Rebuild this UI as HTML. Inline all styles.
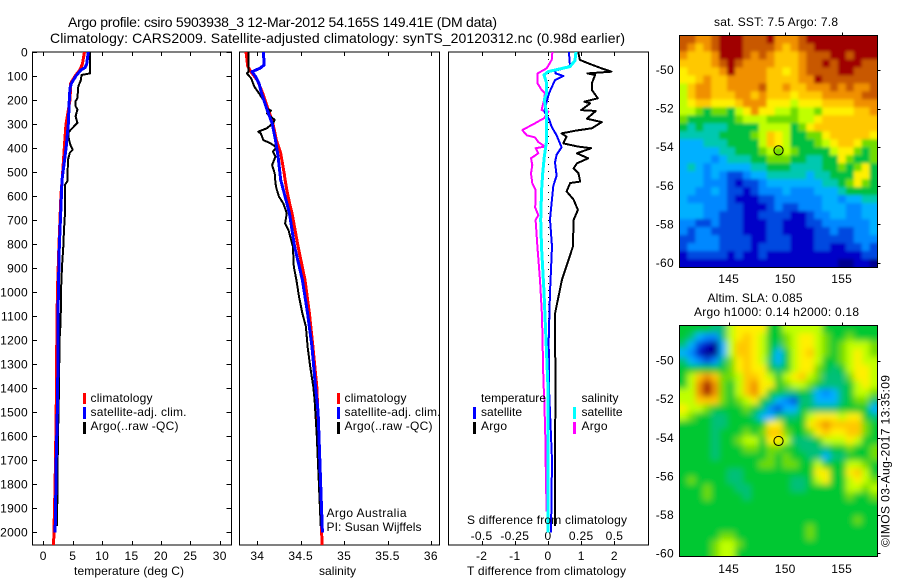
<!DOCTYPE html>
<html lang="en">
<head>
<meta charset="utf-8">
<title>Argo profile chart</title>
<style>
html,body{margin:0;padding:0;background:#fff;}
svg{display:block;font-family:"Liberation Sans",sans-serif;font-size:12px;fill:#000;}
text{fill:#000;}
</style>
</head>
<body>
<svg id="chart" xmlns="http://www.w3.org/2000/svg" width="900" height="580" viewBox="0 0 900 580">
<defs>
<clipPath id="sst-clip"><rect x="679.5" y="35.5" width="198" height="231.5"/></clipPath>
<clipPath id="sla-clip"><rect x="679.5" y="325" width="198" height="231"/></clipPath>
<filter id="sla-blur" x="-10%" y="-10%" width="120%" height="120%"><feGaussianBlur stdDeviation="3.2"/></filter>
<filter id="sst-blur" x="-5%" y="-5%" width="110%" height="110%"><feGaussianBlur stdDeviation="1.5"/></filter>
</defs>
<text x="68" y="27" font-size="14" textLength="429">Argo profile: csiro 5903938_3 12-Mar-2012 54.165S 149.41E (DM data)</text>
<text x="50" y="43" font-size="14" textLength="575">Climatology: CARS2009. Satellite-adjusted climatology: synTS_20120312.nc (0.98d earlier)</text>

<g id="temp-panel"></g>
<g id="sal-panel"></g>
<g id="diff-panel"></g>

<text x="74" y="575" textLength="110">temperature (deg C)</text>
<text x="319" y="575" textLength="37">salinity</text>
<text x="467" y="575" textLength="159">T difference from climatology</text>
<text x="467" y="524" textLength="160">S difference from climatology</text>

<g>
<rect x="83" y="393" width="3" height="11" fill="#f00"/>
<rect x="83" y="407" width="3" height="12" fill="#00f"/>
<rect x="83" y="422" width="3" height="12" fill="#000"/>
<text x="90.5" y="402" textLength="62">climatology</text>
<text x="90.5" y="416" textLength="96">satellite-adj. clim.</text>
<text x="90.5" y="430" textLength="88">Argo(..raw -QC)</text>
</g>
<g>
<rect x="337" y="393" width="3" height="11" fill="#f00"/>
<rect x="337" y="407" width="3" height="12" fill="#00f"/>
<rect x="337" y="422" width="3" height="12" fill="#000"/>
<text x="344.5" y="402" textLength="62">climatology</text>
<text x="344.5" y="416" textLength="96">satellite-adj. clim.</text>
<text x="344.5" y="430" textLength="88">Argo(..raw -QC)</text>
<text x="326.5" y="517" textLength="80">Argo Australia</text>
<text x="326.5" y="531" textLength="95">PI: Susan Wijffels</text>
</g>
<g>
<text x="481" y="402" textLength="65">temperature</text>
<rect x="473" y="407" width="3" height="12" fill="#00f"/>
<text x="481" y="416" textLength="41">satellite</text>
<rect x="473" y="422" width="3" height="12" fill="#000"/>
<text x="481" y="430" textLength="26">Argo</text>
<text x="581.5" y="402" textLength="37">salinity</text>
<rect x="573" y="407" width="3" height="12" fill="#0ff"/>
<text x="581.5" y="416" textLength="41">satellite</text>
<rect x="573" y="422" width="3" height="12" fill="#f0f"/>
<text x="581.5" y="430" textLength="26">Argo</text>
</g>

<text x="714" y="26" textLength="124">sat. SST: 7.5 Argo: 7.8</text>
<text x="707.5" y="302" textLength="95">Altim. SLA: 0.085</text>
<text x="694" y="316" textLength="165">Argo h1000: 0.14 h2000: 0.18</text>

<g clip-path="url(#sst-clip)"><g id="sst-map" filter="url(#sst-blur)"></g></g>
<g clip-path="url(#sla-clip)"><g id="sla-map" filter="url(#sla-blur)"></g></g>
<g id="map-frames"></g>

<text transform="translate(889.5,547) rotate(-90)" textLength="172">©IMOS 03-Aug-2017 13:35:09</text>
</svg>

<script>
// ---------- axis tick values ----------
const depthTicks = [0,100,200,300,400,500,600,700,800,900,1000,1100,1200,1300,1400,1500,1600,1700,1800,1900,2000];
const tempTicks = [0,5,10,15,20,25,30];
const salTicks = [34,34.5,35,35.5,36];
const tDiffTicks = [-2,-1,0,1,2];
const sDiffTicks = [-0.5,-0.25,0,0.25,0.5];
const sDiffLabels = ['-0.5','-0.25','0','0.25','0.5'];
const lonTicks = [145,150,155];
const latTicks = [-50,-52,-54,-56,-58,-60];

// ---------- temperature panel ----------
const tempClimDepth = [0,50,75,100,130,200,300,350,400,500,600,810,1000,1200,1500,1800,2054];
const tempClimValue = [7.0,6.65,6.2,5.4,4.66,4.54,3.86,3.7,3.57,3.3,3.0,2.65,2.4,2.3,2.2,2.0,1.75];
const tempSatDepth = [0,50,65,75,100,130,150,200,300,400,533,671,811,1006,1395,1500,1700,1900,2003];
const tempSatValue = [7.65,7.38,7.1,6.4,5.55,4.8,4.54,4.43,4.25,3.87,3.18,2.96,2.72,2.55,2.45,2.38,2.2,2.1,2.0];
const tempArgoDepth = [0,89,96,117,143,192,205,226,240,268,295,316,335,365,393,407,420,449,490,538,553,600,671,740,811,894,1006,1120,1200,1400,1600,1800,1974];
const tempArgoValue = [7.94,7.94,6.5,6.4,5.95,5.8,5.5,5.5,5.8,5.5,5.8,5.0,4.25,4.35,4.7,5.0,4.5,4.2,4.15,4.1,3.7,3.7,3.69,3.52,3.4,3.18,3.0,2.96,2.75,2.67,2.5,2.4,2.35];

// ---------- salinity panel ----------
const salClimDepth = [0,61,89,117,179,228,297,367,422,506,533,575,644,671,811,950,1089,1228,1395,1700,2054];
const salClimValue = [33.87,33.89,33.94,34.0,34.07,34.115,34.18,34.22,34.27,34.31,34.32,34.34,34.38,34.40,34.47,34.55,34.60,34.64,34.685,34.72,34.745];
const salSatDepth = [0,54,68,82,103,131,172,228,297,367,436,533,671,811,950,1089,1228,1395,1500,1700,2003];
const salSatValue = [34.07,34.08,34.03,33.94,33.98,34.02,34.05,34.10,34.17,34.21,34.24,34.27,34.37,34.43,34.52,34.58,34.63,34.67,34.70,34.72,34.75];
const salArgoDepth = [0,82,89,110,144,172,200,235,244,256,283,297,318,332,339,367,380,397,415,436,471,506,547,568,603,631,672,714,742,811,894,950,1019,1089,1144,1228,1311,1395,1450,1600,1800,1974];
const salArgoValue = [33.90,33.90,33.88,33.93,33.965,34.02,34.07,34.11,34.16,34.11,34.20,34.18,34.11,34.01,34.04,34.07,34.15,34.22,34.18,34.21,34.17,34.20,34.21,34.22,34.25,34.30,34.34,34.32,34.36,34.41,34.42,34.45,34.48,34.52,34.56,34.58,34.61,34.645,34.66,34.685,34.71,34.73];

// ---------- difference panel ----------
const diffTSatDepth = [0,54,64,78,89,100,117,172,207,248,283,312,347,397,428,460,515,558,625,697,811,1000,1200,1400,1600,1700,2003];
const diffTSatValue = [0.63,0.66,0.61,0.21,0.23,0.46,0.21,0.03,-0.04,-0.11,0.04,0.11,0.26,0.41,0.26,0.21,0.26,0.16,0.11,0.06,0.12,0.06,0.02,0.03,0.09,0.12,0.09];
const diffTArgoDepth = [0,33,47,68,82,89,96,131,158,193,207,214,242,246,278,292,318,328,339,353,381,394,401,422,443,464,485,506,540,546,581,615,658,700,811,950,1090,1200,1370,1650,1974];
const diffTArgoValue = [0.91,0.96,1.21,1.61,1.91,1.19,1.42,1.32,1.32,1.5,1.1,1.27,1.0,1.44,1.17,1.62,1.32,0.82,0.41,0.56,0.46,0.91,1.3,0.87,1.21,0.87,0.77,0.92,0.97,0.67,0.56,0.77,0.9,0.77,0.75,0.42,0.21,0.21,0.23,0.21,0.21];
const diffSSatDepth = [0,36,61,75,82,96,131,172,200,255,367,436,506,575,700,811,1000,1200,1400,2003];
const diffSSatValue = [0.21,0.203,0.166,0.053,0,-0.03,-0.01,-0.01,-0.028,-0.01,-0.01,-0.028,-0.04,-0.048,-0.055,-0.049,-0.03,-0.015,0,0];
const diffSArgoDepth = [0,33,68,89,131,158,172,200,242,248,276,297,325,336,347,356,375,394,401,422,443,471,506,547,575,630,646,680,700,811,950,1100,1370,1450,1600,1800,1915];
const diffSArgoValue = [0.033,0.028,-0.01,-0.078,-0.078,-0.048,-0.023,-0.03,-0.048,0.003,-0.03,-0.098,-0.193,-0.178,-0.16,-0.098,-0.073,-0.023,-0.093,-0.073,-0.128,-0.118,-0.128,-0.118,-0.093,-0.093,-0.098,-0.073,-0.093,-0.08,-0.06,-0.045,-0.035,-0.028,-0.02,-0.015,-0.01];

// ---------- map fields (colour level per grid cell, north to south) ----------
const sstLevels = [
[12,12,11,11,12,13,13,13,12,12,12,13,11,11,11,12,13,13,13,13,13,13,13,13,13],
[12,11,10,11,12,13,13,13,12,12,12,12,11,10,11,12,12,13,13,13,13,13,13,13,13],
[11,10,10,10,11,13,13,13,12,11,12,11,10,10,10,11,12,12,12,13,13,12,13,13,13],
[10,10,10,10,11,12,13,12,11,11,11,11,10,10,10,11,12,12,13,12,13,13,13,12,12],
[9,10,10,10,10,11,13,11,11,11,11,10,10,9,10,11,12,12,12,12,13,13,12,12,12],
[9,9,10,11,10,10,11,11,11,11,11,10,10,10,10,11,11,13,12,12,12,12,12,12,12],
[8,10,11,11,10,10,11,11,11,11,12,10,10,11,10,10,11,11,11,12,11,12,11,11,12],
[8,10,11,11,10,10,10,11,11,10,11,10,10,10,9,10,10,10,11,11,11,11,11,12,12],
[8,9,10,10,9,9,9,10,11,11,11,9,9,9,8,9,9,9,10,10,10,10,11,11,11],
[8,8,7,6,7,7,6,8,9,11,9,9,8,8,7,8,8,7,9,9,9,9,10,10,11],
[7,6,6,6,6,6,6,7,8,8,8,7,7,7,7,8,8,9,10,10,10,10,10,10,10],
[6,5,6,5,5,5,6,6,6,6,8,8,8,8,6,7,9,10,10,10,10,10,10,10,10],
[5,5,5,5,5,6,6,6,6,7,8,10,9,8,6,6,7,7,9,10,10,10,10,10,9],
[4,4,4,5,5,5,6,6,6,6,8,10,9,8,6,6,6,7,8,9,10,10,9,7,7],
[4,4,4,4,4,5,5,6,6,6,7,8,7,8,7,6,6,6,6,8,9,9,7,6,7],
[4,4,4,4,3,4,5,5,5,6,6,7,7,7,6,6,5,5,6,6,9,7,6,6,7],
[4,5,4,3,4,4,4,4,4,5,5,6,6,6,5,5,5,5,6,6,7,6,7,9,6],
[4,4,4,3,4,3,2,2,3,4,4,5,5,5,5,5,4,5,5,6,6,6,9,9,6],
[4,4,4,3,3,3,2,1,2,2,3,4,4,4,4,4,4,4,5,5,6,7,9,7,6],
[4,4,3,3,4,3,2,2,1,2,3,3,3,4,3,3,3,4,4,4,5,6,6,6,6],
[4,3,3,3,3,3,2,1,1,1,2,2,3,3,3,3,3,3,4,4,3,4,4,5,5],
[4,4,4,3,3,3,2,2,1,1,1,2,3,2,2,3,3,3,4,4,4,3,3,4,4],
[4,4,4,3,3,2,2,2,1,1,2,2,2,2,1,1,2,3,3,4,4,3,3,4,4],
[3,3,2,2,3,2,2,2,1,1,1,2,2,1,1,1,2,2,3,3,3,3,3,3,4],
[3,2,3,3,2,2,2,2,1,1,1,2,2,1,1,1,1,2,2,3,2,2,3,3,4],
[2,2,3,3,3,2,2,2,2,1,1,2,2,2,1,1,1,2,2,2,2,2,3,3,3],
[2,3,3,3,3,2,2,2,2,1,2,2,2,2,1,1,1,2,2,1,1,2,2,3,2],
[1,2,2,2,2,2,1,2,1,1,2,1,1,1,1,1,1,1,1,1,1,1,1,2,2],
[1,1,1,1,1,1,1,1,1,1,1,1,1,1,1,1,1,1,1,1,0,0,1,1,0]
];
const slaLevels = [
[6,6,6,6,5,5,8,9,9,9,9,6,6,8,8,8,8,8,6,6,6,6,6,6,6],
[6,5,4,3,3,5,8,9,10,9,8,6,6,7,8,9,9,8,7,6,6,7,6,6,6],
[5,4,2,1,0,4,8,10,10,9,8,6,5,7,8,9,9,8,7,6,7,8,8,8,7],
[4,3,1,0,0,4,8,10,10,9,8,6,4,6,8,9,10,8,7,6,7,8,9,8,7],
[5,4,3,2,3,5,7,9,10,9,8,5,4,6,8,9,9,8,6,6,7,8,9,8,8],
[6,6,6,6,6,6,7,9,10,9,9,6,5,6,8,9,9,7,6,5,6,8,9,9,8],
[6,8,10,11,10,7,7,8,10,10,9,8,6,8,9,10,8,7,5,5,5,7,9,9,8],
[6,8,11,13,11,7,6,8,10,11,9,9,6,7,8,8,7,6,5,5,5,6,8,9,8],
[8,8,11,13,11,7,6,8,10,11,9,6,6,5,5,6,5,4,3,4,5,6,8,8,7],
[8,8,10,10,10,7,6,7,8,9,6,5,4,3,2,5,5,4,4,4,5,6,7,7,5],
[9,8,8,7,6,6,6,6,7,6,5,3,2,4,4,6,5,5,5,5,6,6,6,6,4],
[8,7,6,6,5,5,6,6,6,5,4,4,5,5,5,6,8,9,9,9,8,9,9,6,5],
[6,6,6,6,5,5,6,6,6,6,6,9,9,6,6,6,9,10,11,10,10,10,10,7,6],
[6,6,6,6,5,6,6,6,7,6,7,10,10,7,6,6,7,9,10,9,9,10,10,7,6],
[6,6,6,6,5,6,6,7,8,8,6,9,9,8,5,5,5,6,8,8,8,9,8,6,6],
[6,6,6,6,5,6,6,6,7,7,6,7,7,6,6,5,5,5,5,6,6,7,6,6,7],
[6,6,6,6,5,6,6,6,6,6,6,7,6,7,6,6,5,5,4,5,5,6,6,6,7],
[6,6,6,6,6,6,6,6,6,6,7,7,6,7,7,6,6,8,6,6,6,8,8,7,6],
[6,6,6,6,6,6,5,5,6,6,6,6,6,6,6,6,6,9,9,6,6,9,10,8,6],
[6,7,6,6,6,6,5,5,6,6,6,6,6,6,5,5,6,8,9,6,6,8,9,8,7],
[6,6,6,7,6,6,6,5,5,6,6,6,6,6,5,5,6,6,6,6,6,8,8,7,8],
[6,6,6,7,6,6,6,6,5,6,6,6,6,6,6,6,6,6,6,6,6,7,6,6,7],
[6,6,6,6,6,6,6,6,6,6,6,6,6,6,6,6,6,6,6,6,6,6,6,6,6],
[6,6,6,6,6,6,6,6,6,6,6,6,6,6,6,6,6,6,6,6,6,6,6,6,6],
[6,6,6,6,6,6,6,6,6,6,6,6,6,6,6,6,6,6,6,6,6,6,7,6,6],
[6,6,6,6,6,6,6,6,6,6,6,6,6,6,6,6,7,6,6,6,6,6,6,6,6],
[6,6,6,6,6,7,7,6,6,6,6,6,6,6,6,6,7,6,6,6,6,6,6,6,6],
[6,6,6,6,7,8,8,7,6,6,6,6,6,6,6,6,6,6,6,6,6,6,6,6,6],
[6,6,6,6,7,8,8,6,6,6,6,6,6,6,6,6,6,6,6,6,6,6,6,6,6]
];
const profileLon = [149.41];
const profileLat = [-54.165];

// ---------- scales ----------
const SVGNS = 'http://www.w3.org/2000/svg';
const TOP = 52, BOTTOM = 545;
const yDepth = d => 52 + d * 0.24;
const xTemp = t => 43.3 + t * 5.88;
const xSal = s => 257.3 + (s - 34) * 86.8;
const xDT = t => 548 + t * 33.2;
const xDS = s => 548 + s * 132.8;
const xLon = lon => 728.7 + (lon - 145) * 11.3;
const ySst = lat => 70 + (-50 - lat) * 19.3;
const ySla = lat => 360.7 + (-50 - lat) * 19.27;
const palette = ['#000090','#0000c8','#0048e0','#0088ff','#00b0ff','#00c8b0','#00c040','#70dc00','#c0ff00','#fff000','#ffc800','#f09000','#c85800','#a00000'];
const slaPalette = ['#000090','#0000c8','#0048e0','#0088ff','#00b0ff','#00c078','#00c830','#70dc00','#c0ff00','#fff000','#ffc800','#f09000','#c85800','#a00000'];

function node(parent, tag, attrs) {
  const el = document.createElementNS(SVGNS, tag);
  for (const k in attrs) el.setAttribute(k, attrs[k]);
  parent.appendChild(el);
  return el;
}

function drawFrame(parent, x0, x1, xTicks, xScale) {
  const frame = node(parent, 'rect', {x: x0, y: TOP, width: x1 - x0, height: BOTTOM - TOP, fill: '#fff', stroke: '#000', 'stroke-width': 1, 'shape-rendering': 'crispEdges'});
  
  
  xTicks.forEach(v => {
    const x = Math.round(xScale(v)) + 0.5;
    const top = node(parent, 'line', {x1: x, x2: x, y1: TOP, y2: TOP + 4, stroke: '#000', 'shape-rendering': 'crispEdges'});
    
    
    const bot = node(parent, 'line', {x1: x, x2: x, y1: BOTTOM - 4, y2: BOTTOM, stroke: '#000', 'shape-rendering': 'crispEdges'});
    
    
  });
}

function drawLine(parent, depths, values, xScale, color, width, name) {
  const pts = depths.map((d, i) => xScale(values[i]).toFixed(1) + ',' + yDepth(d).toFixed(1)).join(' ');
  const line = node(parent, 'polyline', {points: pts, fill: 'none', stroke: color, 'stroke-width': width, 'shape-rendering': 'crispEdges', 'stroke-linejoin': 'round'});
  
  
}

function tickText(parent, x, y, label, anchor) {
  const t = node(parent, 'text', {x: x, y: y, 'text-anchor': anchor});
  t.textContent = label;
  
  
  t.style.letterSpacing = '0.3px';
}

// temperature panel
const tempPanel = document.getElementById('temp-panel');
drawFrame(tempPanel, 32.5, 231.5, tempTicks, xTemp);
depthTicks.forEach(d => {
  const y = Math.round(yDepth(d)) + 0.5;
  const left = node(tempPanel, 'line', {x1: 32.5, x2: 37, y1: y, y2: y, stroke: '#000', 'shape-rendering': 'crispEdges'});
  
  
  const right = node(tempPanel, 'line', {x1: 226.5, x2: 231.5, y1: y, y2: y, stroke: '#000', 'shape-rendering': 'crispEdges'});
  
  
  tickText(tempPanel, 28, y + 4, String(d), 'end');
});
tempTicks.forEach(v => tickText(tempPanel, xTemp(v), 560, String(v), 'middle'));
drawLine(tempPanel, tempClimDepth, tempClimValue, xTemp, '#f00', 3, 'temperature-climatology-line');
drawLine(tempPanel, tempArgoDepth, tempArgoValue, xTemp, '#000', 2, 'temperature-argo-line');
drawLine(tempPanel, tempSatDepth, tempSatValue, xTemp, '#00f', 3, 'temperature-satellite-line');

// salinity panel
const salPanel = document.getElementById('sal-panel');
drawFrame(salPanel, 239.5, 439.5, salTicks, xSal);
salTicks.forEach(v => tickText(salPanel, xSal(v), 560, String(v), 'middle'));
drawLine(salPanel, salClimDepth, salClimValue, xSal, '#f00', 3, 'salinity-climatology-line');
drawLine(salPanel, salArgoDepth, salArgoValue, xSal, '#000', 2, 'salinity-argo-line');
drawLine(salPanel, salSatDepth, salSatValue, xSal, '#00f', 3, 'salinity-satellite-line');

// difference panel
const diffPanel = document.getElementById('diff-panel');
drawFrame(diffPanel, 448.5, 648.5, tDiffTicks, xDT);
tDiffTicks.forEach(v => tickText(diffPanel, xDT(v), 560, String(v), 'middle'));
sDiffTicks.forEach((v, i) => tickText(diffPanel, xDS(v), 540, sDiffLabels[i], 'middle'));
const zero = node(diffPanel, 'line', {x1: xDT(0) + 0.5, x2: xDT(0) + 0.5, y1: TOP, y2: 530, stroke: '#000', 'stroke-dasharray': '1 6', 'shape-rendering': 'crispEdges'});


drawLine(diffPanel, diffTArgoDepth, diffTArgoValue, xDT, '#000', 2, 't-difference-argo-line');
drawLine(diffPanel, diffSArgoDepth, diffSArgoValue, xDS, '#f0f', 2, 's-difference-argo-line');
drawLine(diffPanel, diffTSatDepth, diffTSatValue, xDT, '#00f', 2, 't-difference-satellite-line');
drawLine(diffPanel, diffSSatDepth, diffSSatValue, xDS, '#0ff', 3, 's-difference-satellite-line');

// maps
function drawCells(parent, levels, colors, x0, y0, w, h, overlap) {
  const rows = levels.length, cols = levels[0].length;
  const cw = w / cols, ch = h / rows;
  levels.forEach((row, r) => row.forEach((lv, c) => {
    // outer cells are stretched outward so the blur does not fade at the frame
    const ex0 = c === 0 ? 12 : 0, ex1 = c === cols - 1 ? 12 : 0;
    const ey0 = r === 0 ? 12 : 0, ey1 = r === rows - 1 ? 12 : 0;
    const cell = node(parent, 'rect', {x: x0 + c * cw - ex0, y: y0 + r * ch - ey0, width: cw + overlap + ex0 + ex1, height: ch + overlap + ey0 + ey1, fill: colors[lv]});
    
    
  }));
}
drawCells(document.getElementById('sst-map'), sstLevels, palette, 679.5, 35.5, 198, 231.5, 0.6);
drawCells(document.getElementById('sla-map'), slaLevels, slaPalette, 679.5, 325, 198, 231, 0.6);

const frames = document.getElementById('map-frames');
function drawMapAxes(y0, y1, yLat, labelY) {
  const box = node(frames, 'rect', {x: 679.5, y: y0, width: 198, height: y1 - y0, fill: 'none', stroke: '#000', 'shape-rendering': 'crispEdges'});
  
  
  lonTicks.forEach(v => {
    const x = Math.round(xLon(v)) + 0.5;
    const tick = node(frames, 'line', {x1: x, x2: x, y1: y0 - 3, y2: y0, stroke: '#000', 'shape-rendering': 'crispEdges'});
    
    
    tickText(frames, xLon(v), labelY, String(v), 'middle');
  });
  latTicks.forEach(v => {
    const y = Math.round(yLat(v)) + 0.5;
    const tick = node(frames, 'line', {x1: 877.5, x2: 880.5, y1: y, y2: y, stroke: '#000', 'shape-rendering': 'crispEdges'});
    
    
    tickText(frames, 674, yLat(v) + 4, String(v), 'end');
  });
  const marker = node(frames, 'circle', {cx: xLon(profileLon[0]), cy: yLat(profileLat[0]), r: 4.6, fill: 'none', stroke: '#000', 'stroke-width': 1});
  
  
}
drawMapAxes(35.5, 267.5, ySst, 283);
drawMapAxes(325.5, 556.5, ySla, 573);
</script>
</body>
</html>
